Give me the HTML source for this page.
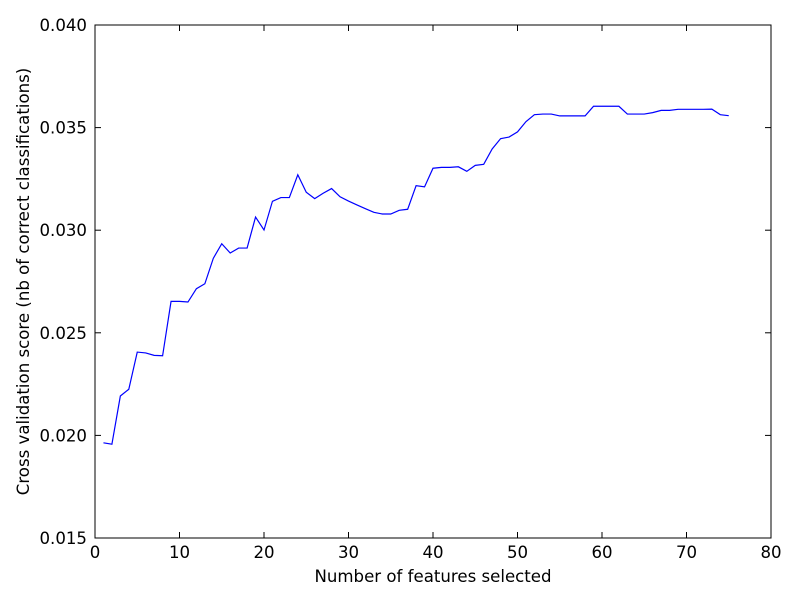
<!DOCTYPE html>
<html><head><meta charset="utf-8"><style>
body{margin:0;background:#fff;}
svg text{font-family:"DejaVu Sans","Liberation Sans",sans-serif;font-size:16.6px;fill:#000;}
</style></head><body>
<svg id="chart" width="800" height="600" xmlns="http://www.w3.org/2000/svg">
<rect width="800" height="600" fill="#fff"/>
<g id="ticks"></g>
<polyline id="series" fill="none" stroke="#0000ff" stroke-width="1.2"/>
<rect x="95" y="25" width="676" height="513" fill="none" stroke="#000" stroke-width="1"/>
<text x="433" y="582" text-anchor="middle">Number of features selected</text>
<text transform="translate(29,281.5) rotate(-90)" text-anchor="middle">Cross validation score (nb of correct classifications)</text>
</svg>
<script>
const xTicks=[0,10,20,30,40,50,60,70,80];
const yTicks=[0.015,0.020,0.025,0.030,0.035,0.040];
const scores=[0.01964,0.01957,0.02192,0.02225,0.02406,0.02402,0.02390,0.02388,0.02653,0.02653,0.02650,0.02715,0.02739,0.02863,0.02934,0.02889,0.02913,0.02913,0.03064,0.03001,0.03141,0.03159,0.03159,0.03270,0.03185,0.03154,0.03180,0.03203,0.03163,0.03142,0.03123,0.03105,0.03087,0.03079,0.03079,0.03097,0.03102,0.03217,0.03211,0.03302,0.03306,0.03306,0.03309,0.03287,0.03316,0.03321,0.03396,0.03446,0.03454,0.03479,0.03529,0.03563,0.03566,0.03566,0.03557,0.03557,0.03557,0.03557,0.03604,0.03604,0.03604,0.03604,0.03566,0.03566,0.03566,0.03573,0.03584,0.03584,0.03589,0.03589,0.03589,0.03589,0.03590,0.03563,0.03558];
const X0=95,X1=771,Y0=538,Y1=25;
function sx(v){return X0+(v-0)/(80-0)*(X1-X0);}
function sy(v){return Y0-(v-0.015)/(0.040-0.015)*(Y0-Y1);}
const NS="http://www.w3.org/2000/svg";
const g=document.getElementById('ticks');
function mk(t,a){const e=document.createElementNS(NS,t);for(const k in a)e.setAttribute(k,a[k]);return e;}
xTicks.forEach(t=>{
  const x=sx(t);
  const l1=mk('line',{x1:x,x2:x,y1:Y0,y2:Y0-6,stroke:'#000'});
  
  
  g.appendChild(l1);
  const l2=mk('line',{x1:x,x2:x,y1:Y1,y2:Y1+6,stroke:'#000'});
  
  
  g.appendChild(l2);
  const tx=mk('text',{x:x,y:Y0+20,'text-anchor':'middle'});
  tx.textContent=t;
  
  
  g.appendChild(tx);
});
yTicks.forEach(t=>{
  const y=sy(t);
  const l1=mk('line',{x1:X0,x2:X0+6,y1:y,y2:y,stroke:'#000'});
  
  
  g.appendChild(l1);
  const l2=mk('line',{x1:X1,x2:X1-6,y1:y,y2:y,stroke:'#000'});
  
  
  g.appendChild(l2);
  const tx=mk('text',{x:X0-8,y:y+6,'text-anchor':'end'});
  tx.textContent=t.toFixed(3);
  
  
  g.appendChild(tx);
});
document.getElementById('series').setAttribute('points',scores.map((v,i)=>sx(i+1)+','+sy(v)).join(' '));
</script>
</body></html>
